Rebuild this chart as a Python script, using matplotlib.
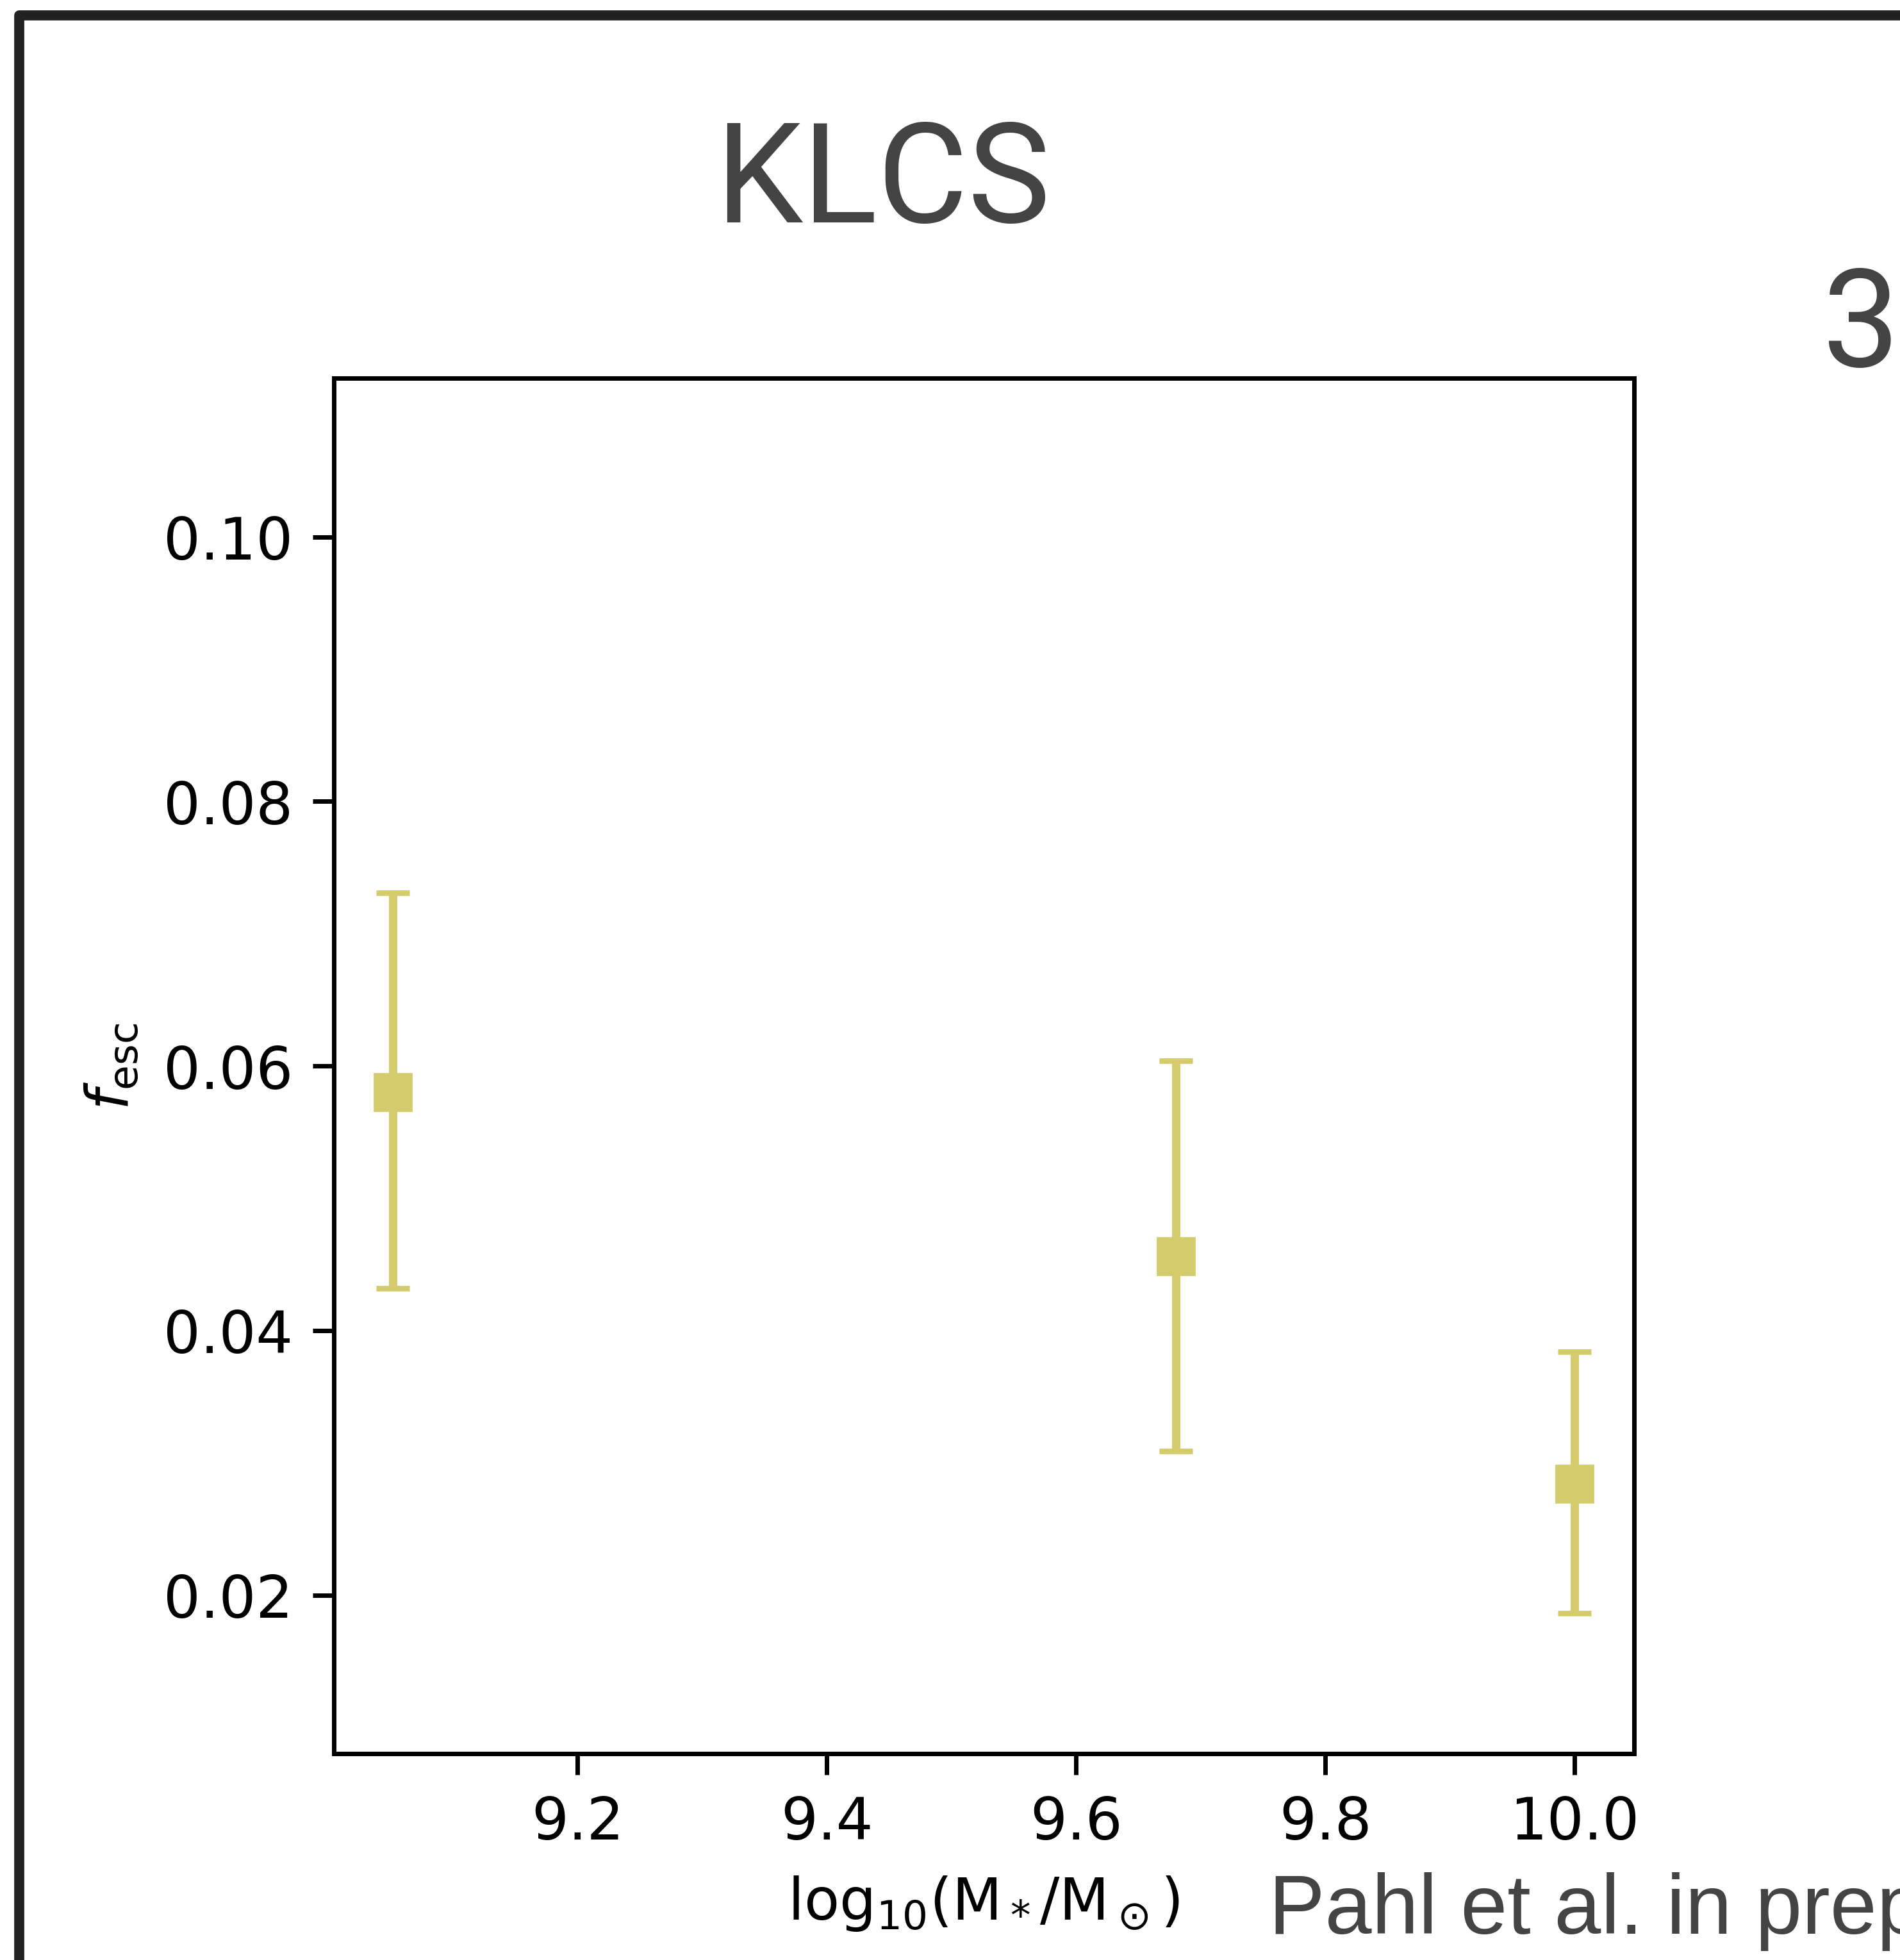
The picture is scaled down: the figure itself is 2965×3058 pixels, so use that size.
import matplotlib
matplotlib.use("Agg")
import matplotlib.pyplot as plt
from matplotlib.lines import Line2D

# Escape fraction vs. stellar mass, binned KLCS measurements
log_mass = [9.052, 9.68, 10.0]
f_esc = [0.0580, 0.0456, 0.0284]
f_esc_upper = [0.0731, 0.0604, 0.0384]
f_esc_lower = [0.0432, 0.0309, 0.0186]

err_low = [v - lo for v, lo in zip(f_esc, f_esc_lower)]
err_high = [hi - v for v, hi in zip(f_esc, f_esc_upper)]

DPI = 630
fig = plt.figure(figsize=(2965 / DPI, 3059 / DPI), dpi=DPI)
fig.patch.set_facecolor("white")

ax = fig.add_axes([0.1757, 0.1052, 0.8599 - 0.1757, 0.8068 - 0.1052])
ax.errorbar(log_mass, f_esc, yerr=[err_low, err_high], fmt="s",
            color="#d4cc6c", ms=6, elinewidth=1.5, capsize=3, capthick=1.0)
ax.set_ylim(0.008, 0.112)
ax.set_xticks([9.2, 9.4, 9.6, 9.8, 10.0])
ax.set_yticks([0.02, 0.04, 0.06, 0.08, 0.10])
ax.tick_params(labelsize=10.4, length=3.8)
ax.set_xlabel(r"$\mathrm{log}_{10}(\mathrm{M}_*/\mathrm{M}_\odot)$", fontsize=10.3)
ax.set_ylabel(r"$f_{\rm esc}$", fontsize=10.3)

# Slide decorations: heading, panel number and citation
fig.text(0.3763, 0.8865, "KLCS", family="Roboto", fontsize=24.8,
         color="#444444", ha="left", va="baseline")
fig.text(0.9592, 0.8131, "3", family="Roboto", fontsize=24.5,
         color="#444444", ha="left", va="baseline")
fig.text(0.6678, 0.0137, "Pahl et al. in prep", family="Liberation Sans",
         fontsize=15, color="#444444", ha="left", va="baseline")

# Rounded frame around the slide panel
x0 = 30 / 2965
y1 = 1 - 24.5 / 3059
frame = Line2D([x0, x0, 1.2], [-0.2, y1, y1], transform=fig.transFigure,
               color="#222222", lw=1.8, solid_joinstyle="round",
               solid_capstyle="butt", clip_on=False)
fig.add_artist(frame)

fig.savefig("out.png", dpi=DPI)
